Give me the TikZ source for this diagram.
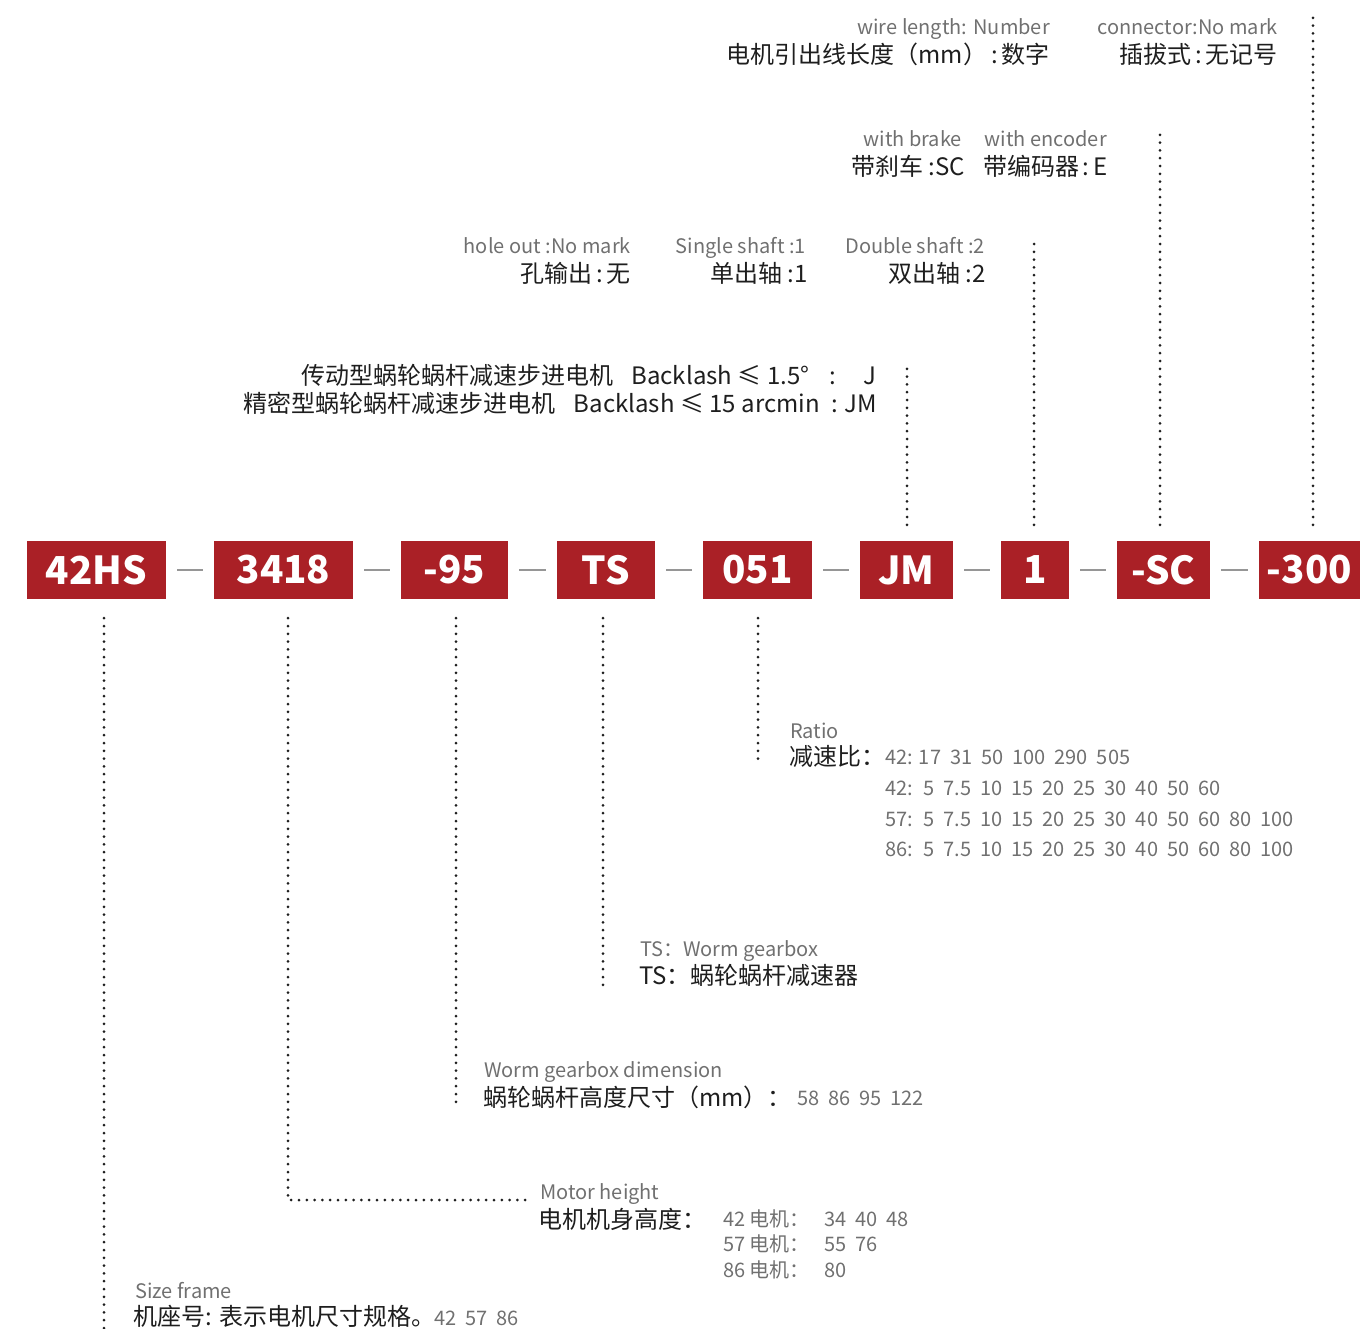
\documentclass[tikz,border=0pt]{standalone}
\usepackage{fontspec}
\setmainfont{Noto Sans CJK SC}
\usepackage{tikz}
\usetikzlibrary{positioning}
\definecolor{myred}{RGB}{170, 32, 38}
\definecolor{mygray1}{RGB}{112, 112, 112}
\definecolor{mygray2}{RGB}{150, 150, 150}
\definecolor{mydark}{RGB}{30, 30, 30}

\begin{document}
\begin{tikzpicture}[
    x = 1pt, y = -1pt,
    box/.style = {fill = myred, text = white, inner sep = 0pt, minimum height = 58pt, font = \fontsize{38.5}{38.5}\selectfont\bfseries},
    sep/.style = {mygray2, line width = 1.6pt},
    dots/.style = {mydark, line width = 3pt, line cap = round, dash pattern = on 0pt off 7.8pt},
    en/.style = {mygray1, inner sep = 0pt, font = \fontsize{20}{20}\selectfont},
    cn/.style = {mydark, inner sep = 0pt, font = \fontsize{24}{24}\selectfont},
]

\useasboundingbox (0, 0) rectangle (1360, 1328);

% code boxes
\node[box, minimum width = 139pt] (b42) at (96.5, 570) {42HS};
\node[box, minimum width = 139pt] (b3418) at (283.5, 570) {3418};
\node[box, minimum width = 107pt] (b95) at (454.5, 570) {-95};
\node[box, minimum width = 98pt] (bTS) at (606, 570) {TS};
\node[box, minimum width = 109pt] (b051) at (757.5, 570) {051};
\node[box, minimum width = 93pt] (bJM) at (906.5, 570) {JM};
\node[box, minimum width = 68pt] (b1) at (1035, 570) {1};
\node[box, minimum width = 93pt] (bSC) at (1163.5, 570) {-SC};
\node[box, minimum width = 101pt] (b300) at (1309.5, 570) {-300};

\draw[sep] ([xshift = 11pt]b42.east) -- ([xshift = -11pt]b3418.west);
\draw[sep] ([xshift = 11pt]b3418.east) -- ([xshift = -11pt]b95.west);
\draw[sep] ([xshift = 11pt]b95.east) -- ([xshift = -11pt]bTS.west);
\draw[sep] ([xshift = 11pt]bTS.east) -- ([xshift = -11pt]b051.west);
\draw[sep] ([xshift = 11pt]b051.east) -- ([xshift = -11pt]bJM.west);
\draw[sep] ([xshift = 11pt]bJM.east) -- ([xshift = -11pt]b1.west);
\draw[sep] ([xshift = 11pt]b1.east) -- ([xshift = -11pt]bSC.west);
\draw[sep] ([xshift = 11pt]bSC.east) -- ([xshift = -11pt]b300.west);

% upper labels
\node[en, anchor = base east] (wireEn) at (1050, 34) {wire length: Number};
\node[cn, anchor = base east] (wireCn) at (1050, 63) {电机引出线长度（mm）\,:\,数字};
\node[en, anchor = base east] (plugEn) at (1278, 34) {connector:No mark};
\node[cn, anchor = base east] (plugCn) at (1278, 63) {插拔式\,:\,无记号};

\node[en, anchor = base east] (brakeEn) at (962, 146) {with brake};
\node[cn, anchor = base east] (brakeCn) at (965, 175) {带刹车 :SC};
\node[en, anchor = base east] (encEn) at (1107, 146) {with encoder};
\node[cn, anchor = base east] (encCn) at (1108, 175) {带编码器\,:\,E};

\node[en, anchor = base east] (holeEn) at (631, 253) {hole out :No mark};
\node[cn, anchor = base east] (holeCn) at (631, 282) {孔输出\,:\,无};
\node[en, anchor = base east] (singleEn) at (806, 253) {Single shaft :1};
\node[cn, anchor = base east] (singleCn) at (808, 282) {单出轴 :1};
\node[en, anchor = base east] (doubleEn) at (985, 253) {Double shaft :2};
\node[cn, anchor = base east] (doubleCn) at (986, 282) {双出轴 :2};

\node[cn, anchor = base east] (backJ) at (877, 384) {传动型蜗轮蜗杆减速步进电机\hspace{18pt}Backlash ≤ 1.5°\hspace{20pt}:\hspace{28pt}J};
\node[cn, anchor = base east] (backJM) at (877, 412) {精密型蜗轮蜗杆减速步进电机\hspace{18pt}Backlash ≤ 15 arcmin\hspace{12pt}:\hspace{6pt}JM};

% lower labels
\node[en, anchor = base west] (ratioEn) at (790, 738) {Ratio};
\node[cn, anchor = base west] (ratioCn) at (789, 765) {减速比：};
\node[en, anchor = base west] (ratioA) at (885, 764) {42: 17 \ 31 \ 50 \ 100 \ 290 \ 505};
\node[en, anchor = base west] (ratioB) at (885, 795) {42: \ 5 \ 7.5 \ 10 \ 15 \ 20 \ 25 \ 30 \ 40 \ 50 \ 60};
\node[en, anchor = base west] (ratioC) at (885, 826) {57: \ 5 \ 7.5 \ 10 \ 15 \ 20 \ 25 \ 30 \ 40 \ 50 \ 60 \ 80 \ 100};
\node[en, anchor = base west] (ratioD) at (885, 856) {86: \ 5 \ 7.5 \ 10 \ 15 \ 20 \ 25 \ 30 \ 40 \ 50 \ 60 \ 80 \ 100};

\node[en, anchor = base west] (tsEn) at (640, 956) {TS：Worm gearbox};
\node[cn, anchor = base west] (tsCn) at (639, 984) {TS：蜗轮蜗杆减速器};

\node[en, anchor = base west] (wormEn) at (484, 1077) {Worm gearbox dimension};
\node[cn, anchor = base west] (wormCn) at (483, 1106) {蜗轮蜗杆高度尺寸（mm）：};
\node[en, anchor = base west] (wormNum) at (797, 1105) {58 \ 86 \ 95 \ 122};

\node[en, anchor = base west] (heightEn) at (540, 1199) {Motor height};
\node[cn, anchor = base west] (heightCn) at (538, 1228) {电机机身高度：};
\node[en, anchor = base west] (h42) at (723, 1226) {42 电机：};
\node[en, anchor = base west] (h42v) at (824, 1226) {34 \ 40 \ 48};
\node[en, anchor = base west] (h57) at (723, 1251) {57 电机：};
\node[en, anchor = base west] (h57v) at (824, 1251) {55 \ 76};
\node[en, anchor = base west] (h86) at (723, 1277) {86 电机：};
\node[en, anchor = base west] (h86v) at (824, 1277) {80};

\node[en, anchor = base west] (sizeEn) at (135, 1298) {Size frame};
\node[cn, anchor = base west] (sizeCn) at (133, 1325) {机座号: 表示电机尺寸规格。};
\node[en, anchor = base west] (sizeNum) at (434, 1325) {42 \ 57 \ 86};

% dotted leaders
\coordinate (e42) at (104, 1328);
\coordinate (e3418) at (288, 1200);
\coordinate (f3418) at (527, 1200);
\coordinate (e95) at (456, 1105);
\coordinate (eTS) at (603, 985);
\coordinate (e051) at (758, 765);
\coordinate (eJM) at (907, 365);
\coordinate (e1) at (1034, 237);
\coordinate (eSC) at (1160, 130);
\coordinate (e300) at (1313, 15);

\draw[dots] (e42 |- b42.south) ++(0, 19) -- (e42);
\draw[dots] (e3418 |- b3418.south) ++(0, 19) -- (e3418) -- (f3418);
\draw[dots] (e95 |- b95.south) ++(0, 19) -- (e95);
\draw[dots] (eTS |- bTS.south) ++(0, 19) -- (eTS);
\draw[dots] (e051 |- b051.south) ++(0, 19) -- (e051);
\draw[dots] (eJM |- bJM.north) ++(0, -16) -- (eJM);
\draw[dots] (e1 |- b1.north) ++(0, -16) -- (e1);
\draw[dots] (eSC |- bSC.north) ++(0, -16) -- (eSC);
\draw[dots] (e300 |- b300.north) ++(0, -16) -- (e300);

\end{tikzpicture}
\end{document}
